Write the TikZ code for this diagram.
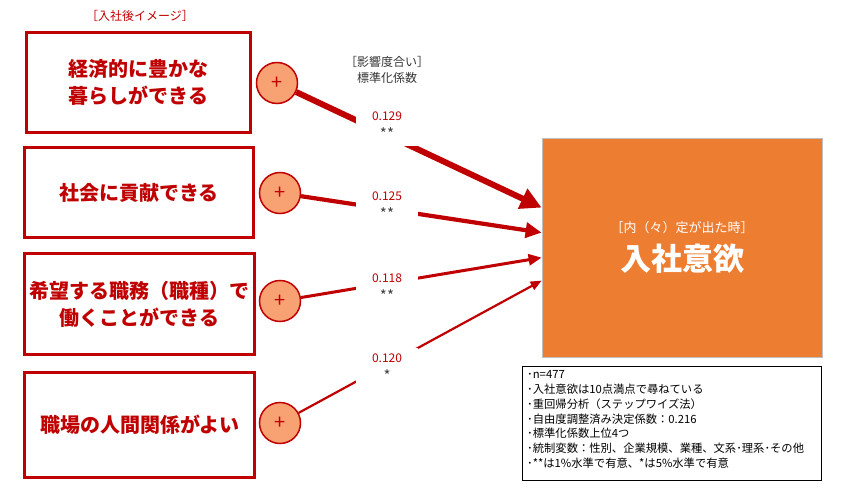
\documentclass[tikz,border=0pt]{standalone}
\usepackage{fontspec}
\setmainfont{Noto Sans CJK JP}
\usetikzlibrary{arrows.meta,calc}
\definecolor{dred}{HTML}{C00000}
\definecolor{salmon}{HTML}{F8A274}
\definecolor{orng}{HTML}{ED7D31}
\newcommand{\sig}[1]{\textcolor{black!75}{\fontsize{15}{17}\selectfont\raisebox{-2pt}{#1}}}
\begin{document}
\begin{tikzpicture}[x=1pt,y=-1pt,
  cause/.style={draw=dred, line width=3pt, fill=white, inner sep=0pt, align=center,
    font=\fontsize{20}{27}\selectfont\bfseries, text=dred},
  plus/.style={circle, draw=dred, line width=1.5pt, fill=salmon, minimum size=41pt,
    inner sep=0pt, text=dred, font=\fontsize{20}{20}\selectfont},
  coef/.style={fill=white, inner sep=0pt, minimum width=62pt, minimum height=40pt,
    align=center, font=\fontsize{12}{17}\selectfont},
  link/.style={draw=dred, line cap=butt},
  small/.style={font=\fontsize{12}{16.5}\selectfont, align=center}
]
\useasboundingbox (0,0) rectangle (846,500);

% title
\node[small, text=dred] (title) at (140,16) {［入社後イメージ］};
\node[small, text=black!80] (hdr) at (387,70) {［影響度合い］\\標準化係数};

% cause boxes
\node[cause, minimum width=224pt, minimum height=100pt] (b1) at (138.5,82.5) {経済的に豊かな\\暮らしができる};
\node[cause, minimum width=229pt, minimum height=90pt] (b2) at (139,192.5) {社会に貢献できる};
\node[cause, minimum width=230pt, minimum height=101pt] (b3) at (139.5,304) {希望する職務（職種）で\\働くことができる};
\node[cause, minimum width=230pt, minimum height=105pt] (b4) at (139.5,425) {職場の人間関係がよい};

% plus circles
\node[plus] (c1) at (277,83) {+};
\node[plus] (c2) at (280,193) {+};
\node[plus] (c3) at (280,301) {+};
\node[plus] (c4) at (280,423) {+};

% goal box
\node[draw=black!25, line width=0.8pt, fill=orng, minimum width=280pt, minimum height=219pt, inner sep=0pt] (goal) at (682,247.5) {};
\node[text=white, font=\fontsize{13}{13}\selectfont] (goalsub) at (682,228) {［内（々）定が出た時］};
\node[text=white, font=\fontsize{31}{31}\selectfont\bfseries] (goaltitle) at (682,259) {入社意欲};

\coordinate (t1) at ([yshift=-70pt]goal.north west);
\coordinate (t2) at ([yshift=-95pt]goal.north west);
\coordinate (t3) at ([yshift=-120pt]goal.north west);
\coordinate (t4) at ([yshift=-143pt]goal.north west);

% links
\draw[link, line width=6pt, -{Triangle[length=21pt,width=21pt]}] (c1) -- (t1);
\draw[link, line width=4.2pt, -{Triangle[length=16pt,width=15pt]}] (c2) -- (t2);
\draw[link, line width=3pt, -{Triangle[length=13pt,width=11pt]}] (c3) -- (t3);
\draw[link, line width=2.2pt, -{Triangle[length=11pt,width=9pt]}] (c4) -- (t4);

% coefficient labels
\node[coef] (k1) at (387,126) {\textcolor{dred}{0.129}\\\sig{**}};
\node[coef] (k2) at (387,206) {\textcolor{dred}{0.125}\\\sig{**}};
\node[coef] (k3) at (387,288) {\textcolor{dred}{0.118}\\\sig{**}};
\node[coef] (k4) at (387,368) {\textcolor{dred}{0.120}\\\sig{*}};

% notes
\node[draw=black, line width=0.8pt, minimum width=299pt, minimum height=114pt, inner sep=0pt] (notes) at (671.5,423) {};
\node[anchor=north west, align=left, inner sep=0pt, font=\fontsize{11.3}{14.8}\selectfont] (notetext) at (527,370.5) {%
･n=477\\
･入社意欲は10点満点で尋ねている\\
･重回帰分析（ステップワイズ法）\\
･自由度調整済み決定係数：0.216\\
･標準化係数上位4つ\\
･統制変数：性別、企業規模、業種、文系･理系･その他\\
･**は1\%水準で有意、*は5\%水準で有意};
\end{tikzpicture}
\end{document}
